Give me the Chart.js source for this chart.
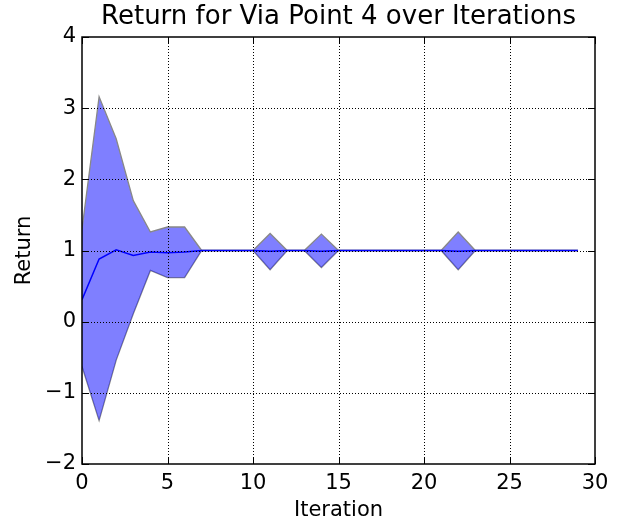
<!DOCTYPE html>
<html>
<head>
<meta charset="utf-8">
<script src="https://cdn.jsdelivr.net/npm/chart.js@4.4.0/dist/chart.umd.min.js"></script>
<style>
html,body{margin:0;padding:0;background:#fff;}
canvas{display:block;}
</style>
</head>
<body>
<canvas id="c" width="617" height="525"></canvas>
<script>
const iterations = Array.from({length: 30}, (_, i) => i);
const meanReturn = [0.31, 0.88, 1.01, 0.93, 0.98, 0.97, 0.98, 1, 1, 1, 1, 0.99, 1, 1, 0.99, 1, 1, 1, 1, 1, 1, 1, 0.99, 1, 1, 1, 1, 1, 1, 1];
const upperReturn = [1.3, 3.16, 2.57, 1.70, 1.26, 1.33, 1.33, 1, 1, 1, 1, 1.24, 1, 1, 1.23, 1, 1, 1, 1, 1, 1, 1, 1.26, 1, 1, 1, 1, 1, 1, 1];
const lowerReturn = [-0.63, -1.39, -0.54, 0.11, 0.72, 0.62, 0.62, 1, 1, 1, 1, 0.73, 1, 1, 0.76, 1, 1, 1, 1, 1, 1, 1, 0.73, 1, 1, 1, 1, 1, 1, 1];
const xTicks = [0, 5, 10, 15, 20, 25, 30];
const yTicks = [-2, -1, 0, 1, 2, 3, 4];

const FONT = "'DejaVu Sans', sans-serif";
const pts = arr => arr.map((v, i) => ({x: iterations[i], y: v}));
const fmt = v => (v < 0 ? '\u2212' + Math.abs(v) : String(v));

const overlay = {
  id: 'overlay',
  afterDatasetsDraw(chart) {
    const {ctx, chartArea: a, scales: {x, y}} = chart;
    ctx.save();
    ctx.strokeStyle = '#000';
    ctx.lineWidth = 1;
    ctx.setLineDash([1, 2]);
    xTicks.forEach(t => {
      if (t <= x.min || t >= x.max) return;
      const px = Math.round(x.getPixelForValue(t)) + 0.5;
      ctx.beginPath(); ctx.moveTo(px, a.top); ctx.lineTo(px, a.bottom); ctx.stroke();
    });
    yTicks.forEach(t => {
      if (t <= y.min || t >= y.max) return;
      const py = Math.round(y.getPixelForValue(t)) + 0.5;
      ctx.beginPath(); ctx.moveTo(a.left, py); ctx.lineTo(a.right, py); ctx.stroke();
    });
    ctx.setLineDash([]);
    const L = 7;
    xTicks.forEach(t => {
      const px = Math.round(x.getPixelForValue(t)) + 0.5;
      ctx.beginPath();
      ctx.moveTo(px, a.bottom); ctx.lineTo(px, a.bottom - L);
      ctx.moveTo(px, a.top); ctx.lineTo(px, a.top + L);
      ctx.stroke();
    });
    yTicks.forEach(t => {
      const py = Math.round(y.getPixelForValue(t)) + 0.5;
      ctx.beginPath();
      ctx.moveTo(a.left, py); ctx.lineTo(a.left + L, py);
      ctx.moveTo(a.right, py); ctx.lineTo(a.right - L, py);
      ctx.stroke();
    });
    ctx.lineWidth = 1.5;
    ctx.strokeRect(a.left, a.top, a.right - a.left, a.bottom - a.top);
    ctx.restore();
  }
};

new Chart(document.getElementById('c'), {
  type: 'line',
  data: {
    datasets: [
      {
        label: 'mean',
        data: pts(meanReturn),
        borderColor: '#0000ff',
        borderWidth: 1.5,
        pointRadius: 0,
        fill: false,
        tension: 0,
        order: 0
      },
      {
        label: 'upper',
        data: pts(upperReturn),
        borderColor: '#888888',
        borderWidth: 1.3,
        backgroundColor: 'rgba(0,0,255,0.5)',
        pointRadius: 0,
        fill: '+1',
        tension: 0,
        order: 1
      },
      {
        label: 'lower',
        data: pts(lowerReturn),
        borderColor: '#888888',
        borderWidth: 1.3,
        pointRadius: 0,
        fill: false,
        tension: 0,
        order: 1
      }
    ]
  },
  options: {
    responsive: false,
    animation: false,
    devicePixelRatio: 1,
    layout: {padding: {left: 0, right: 22, top: 0, bottom: 0}},
    plugins: {
      legend: {display: false},
      tooltip: {enabled: false},
      title: {
        display: true,
        fullSize: false,
        align: 'center',
        text: 'Return for Via Point 4 over Iterations',
        color: '#000',
        font: {family: FONT, size: 26, weight: 'normal', lineHeight: 1.2},
        padding: {top: 2, bottom: 3.8}
      }
    },
    scales: {
      x: {
        type: 'linear',
        min: 0, max: 30,
        afterBuildTicks: s => { s.ticks = xTicks.map(v => ({value: v})); },
        afterFit: s => { s.height = 61; },
        grid: {display: false, drawTicks: false},
        border: {display: false},
        ticks: {color: '#000', font: {family: FONT, size: 21}, padding: 7, maxRotation: 0, callback: fmt},
        title: {display: true, text: 'Iteration', color: '#000', font: {family: FONT, size: 21}, padding: {top: 0, bottom: 2}}
      },
      y: {
        type: 'linear',
        min: -2, max: 4,
        afterBuildTicks: s => { s.ticks = yTicks.map(v => ({value: v})); },
        afterFit: s => { s.width = 82; },
        grid: {display: false, drawTicks: false},
        border: {display: false},
        ticks: {color: '#000', font: {family: FONT, size: 21}, padding: 6, callback: fmt},
        title: {display: true, text: 'Return', color: '#000', font: {family: FONT, size: 21}, padding: {top: 12, bottom: 0}}
      }
    }
  },
  plugins: [overlay]
});
</script>
</body>
</html>
